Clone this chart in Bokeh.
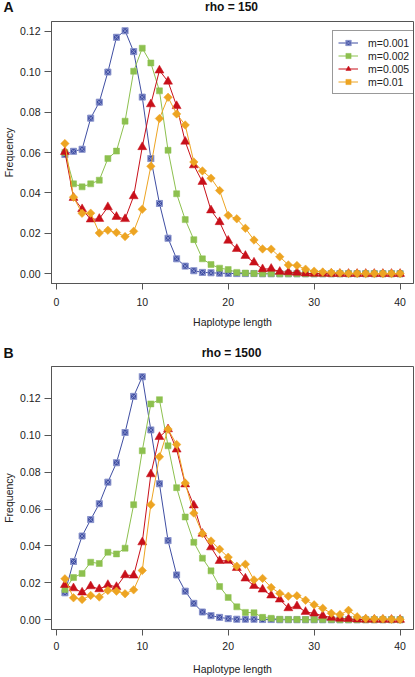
from bokeh.plotting import figure
from bokeh.models import Range1d, FixedTicker, NumeralTickFormatter, Label
from bokeh.layouts import column
from bokeh.embed import file_html
from bokeh.resources import INLINE
import math

# ---------------- data ----------------
lengths = list(range(1, 41))
series_names = ["m=0.001", "m=0.002", "m=0.005", "m=0.01"]
x_ticks = [0, 10, 20, 30, 40]
y_ticks = [0.0, 0.02, 0.04, 0.06, 0.08, 0.10, 0.12]

# Panel A: rho = 150
a_m0001 = [0.059, 0.0606, 0.0616, 0.077, 0.0849, 0.0998, 0.117, 0.1202, 0.1099, 0.0874,
           0.057, 0.0348, 0.0176, 0.0074, 0.0038, 0.0015, 0.0007, 0.0005, 0.0003, 0.0002,
           0.0001, 0.0001, 0.0001, 0, 0, 0, 0, 0, 0, 0,
           0, 0, 0, 0, 0, 0, 0, 0, 0, 0]
a_m0002 = [0.060, 0.0445, 0.043, 0.0445, 0.0463, 0.057, 0.0607, 0.0755, 0.1002, 0.1116,
           0.1043, 0.0905, 0.0611, 0.0396, 0.0268, 0.0169, 0.0074, 0.0046, 0.0028, 0.0021,
           0.0007, 0.0004, 0.0002, 0.0001, 0.0001, 0, 0, 0, 0, 0,
           0, 0, 0, 0, 0, 0, 0, 0, 0, 0]
a_m0005 = [0.0603, 0.0376, 0.032, 0.0269, 0.0272, 0.033, 0.0282, 0.0271, 0.0384, 0.0627,
           0.0839, 0.1006, 0.0951, 0.083, 0.0654, 0.0537, 0.0455, 0.0314, 0.0256, 0.0164,
           0.0123, 0.0089, 0.0056, 0.0023, 0.0025, 0.001, 0.0008, 0.0006, 0.0002, 0.0001,
           0.0001, 0, 0, 0, 0, 0, 0, 0, 0, 0]
a_m001 = [0.0644, 0.0379, 0.0299, 0.030, 0.0202, 0.0215, 0.0204, 0.0184, 0.021, 0.0319,
          0.0532, 0.0768, 0.0873, 0.0791, 0.0736, 0.0553, 0.0509, 0.0473, 0.0412, 0.0289,
          0.0272, 0.0225, 0.0167, 0.0123, 0.0122, 0.0084, 0.0044, 0.0041, 0.0023, 0.0013,
          0.0009, 0.0006, 0.0004, 0.0002, 0.0002, 0.0001, 0.0001, 0.0001, 0.0001, 0.0001]

# Panel B: rho = 1500
b_m0001 = [0.0146, 0.0316, 0.0454, 0.0543, 0.0629, 0.0746, 0.0851, 0.1015, 0.1211, 0.1317,
           0.1029, 0.0737, 0.0429, 0.0243, 0.0155, 0.0089, 0.0042, 0.0022, 0.0013, 0.0006,
           0.0003, 0.0003, 0.0003, 0.0001, 0.0001, 0, 0, 0, 0, 0,
           0, 0, 0, 0, 0, 0, 0, 0, 0, 0]
b_m0002 = [0.0164, 0.0229, 0.0251, 0.0312, 0.0305, 0.0366, 0.0357, 0.0388, 0.0624, 0.0916,
           0.117, 0.1193, 0.0943, 0.0716, 0.0557, 0.042, 0.0334, 0.0265, 0.018, 0.0121,
           0.007, 0.004, 0.0038, 0.0013, 0.0008, 0.0003, 0.0002, 0.0002, 0.0001, 0.0001,
           0.0001, 0.0001, 0, 0, 0, 0, 0, 0, 0, 0]
b_m0005 = [0.0189, 0.0171, 0.0148, 0.0182, 0.0166, 0.0189, 0.0178, 0.0242, 0.024, 0.042,
           0.0789, 0.0991, 0.1033, 0.0923, 0.0734, 0.062, 0.0467, 0.0393, 0.0319, 0.032,
           0.0281, 0.0224, 0.0184, 0.0164, 0.0132, 0.011, 0.0063, 0.0074, 0.0043, 0.0034,
           0.0022, 0.0011, 0.0006, 0.0005, 0.0002, 0.0001, 0.0001, 0, 0, 0]
b_m001 = [0.0222, 0.0119, 0.011, 0.0132, 0.0123, 0.0159, 0.0155, 0.0141, 0.0162, 0.0267,
          0.0624, 0.0883, 0.1033, 0.095, 0.0741, 0.0578, 0.0467, 0.0427, 0.0382, 0.0339,
          0.029, 0.0301, 0.0216, 0.0224, 0.0175, 0.0143, 0.0128, 0.013, 0.0106, 0.0081,
          0.0062, 0.0035, 0.0028, 0.0051, 0.0016, 0.0007, 0.0005, 0.0005, 0.0003, 0.0002]

# ---------------- style ----------------
FONT = "Liberation Sans"
colors = ["#3F4EA2", "#8DC04F", "#C8101A", "#EDA422"]
AXIS_COL = "#555555"
W = 415


def header(height, letter, title, text_y):
    h = figure(width=W, height=height, output_backend="svg", toolbar_location=None,
               x_axis_location=None, y_axis_location=None,
               x_range=Range1d(0, W), y_range=Range1d(height, 0),
               min_border_left=0, min_border_right=0, min_border_top=0,
               min_border_bottom=0, frame_align=False)
    h.grid.visible = False
    h.outline_line_color = None
    h.background_fill_color = "white"
    h.border_fill_color = "white"
    h.add_layout(Label(x=3, y=text_y, x_units="canvas", y_units="canvas", text=letter,
                       text_align="left", text_baseline="middle", text_font=FONT,
                       text_font_size="14px", text_font_style="bold",
                       text_color="#111111"))
    h.add_layout(Label(x=231, y=text_y, x_units="canvas", y_units="canvas", text=title,
                       text_align="center", text_baseline="middle", text_font=FONT,
                       text_font_size="12px", text_font_style="bold",
                       text_color="#111111"))
    return h


def style_marks(p, x, ys, with_legend):
    specs = [
        dict(marker="square_x", size=6, angle=0.0),
        dict(marker="square", size=6, angle=0.0),
        dict(marker="triangle", size=9, angle=0.0),
        dict(marker="square", size=6, angle=math.pi / 4),
    ]
    for y, col, name, spec in zip(ys, colors, series_names, specs):
        kw = dict(legend_label=name) if with_legend else {}
        p.line(x, y, line_color=col, line_width=1, **kw)
        if spec["marker"] == "square_x":
            p.scatter(x, y, marker="square_x", size=spec["size"], fill_color=col,
                      line_color="#8A94CC", line_width=1, **kw)
        else:
            p.scatter(x, y, marker=spec["marker"], size=spec["size"], angle=spec["angle"],
                      fill_color=col, line_color=col, line_width=0.5, **kw)


def make_panel(ys, height, border_bottom, ymax, tick_standoff, axlab_standoff,
               with_legend):
    pad = 0.04 * ymax
    p = figure(width=W, height=height, output_backend="svg", toolbar_location=None,
               x_range=Range1d(1 - 0.04 * 39, 40 + 0.04 * 39),
               y_range=Range1d(-pad, ymax + pad),
               min_border_left=49, min_border_right=2,
               min_border_top=1, min_border_bottom=border_bottom, frame_align=False)
    p.grid.visible = False
    p.outline_line_color = AXIS_COL
    p.outline_line_width = 1
    p.background_fill_color = "white"
    p.border_fill_color = "white"

    style_marks(p, lengths, ys, with_legend)

    p.xaxis.ticker = FixedTicker(ticks=x_ticks)
    p.yaxis.ticker = FixedTicker(ticks=y_ticks)
    p.yaxis.formatter = NumeralTickFormatter(format="0.00")
    for ax in (p.xaxis[0], p.yaxis[0]):
        ax.axis_line_color = AXIS_COL
        ax.major_tick_line_color = AXIS_COL
        ax.major_tick_in = 0
        ax.minor_tick_line_color = None
        ax.major_label_text_font = FONT
        ax.major_label_text_font_size = "10.5px"
        ax.major_label_text_color = "#222222"
        ax.axis_label_text_font = FONT
        ax.axis_label_text_font_size = "10.5px"
        ax.axis_label_text_font_style = "normal"
        ax.axis_label_text_color = "#222222"
    p.xaxis.major_tick_out = 6
    p.xaxis.major_label_standoff = tick_standoff
    p.xaxis.axis_label = "Haplotype length"
    p.xaxis.axis_label_standoff = axlab_standoff
    p.yaxis.major_tick_out = 7
    p.yaxis.major_label_standoff = 4
    p.yaxis.axis_label = "Frequency"
    p.yaxis.axis_label_standoff = 2

    if with_legend:
        lg = p.legend[0]
        lg.location = (281, 189)
        lg.border_line_color = "#333333"
        lg.border_line_width = 1
        lg.background_fill_color = "white"
        lg.background_fill_alpha = 1
        lg.padding = 5
        lg.spacing = 0
        lg.margin = 0
        lg.glyph_width = 20
        lg.glyph_height = 13
        lg.label_height = 13
        lg.label_standoff = 10
        lg.label_text_font = FONT
        lg.label_text_font_size = "10.5px"
        lg.label_text_color = "#222222"
    return p


hA = header(20, "A", "rho = 150", 6)
pA = make_panel([a_m0001, a_m0002, a_m0005, a_m001], height=315, border_bottom=52,
                ymax=0.12, tick_standoff=8, axlab_standoff=7, with_legend=True)
hB = header(30, "B", "rho = 1500", 17)
pB = make_panel([b_m0001, b_m0002, b_m0005, b_m001], height=312, border_bottom=48,
                ymax=0.132, tick_standoff=6, axlab_standoff=10, with_legend=False)

layout = column(hA, pA, hB, pB, spacing=0)
open("out.html", "w").write(file_html(layout, INLINE))
